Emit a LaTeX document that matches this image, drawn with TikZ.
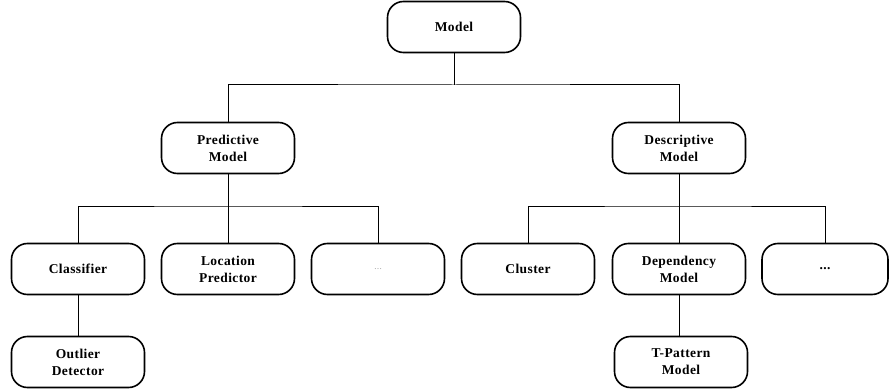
\documentclass[tikz,border=0pt]{standalone}
\usepackage{fontspec}
\setmainfont{Liberation Serif}[LetterSpace=3]

\begin{document}
\begin{tikzpicture}[x=1pt,y=1pt,
  box/.style={draw,line width=1.6pt,rounded corners=16pt,minimum width=133pt,minimum height=51pt,
    align=center,font=\fontsize{13.5}{17}\selectfont\bfseries},
  link/.style={line width=1pt}]
\useasboundingbox (0,0) rectangle (889,389);

% levels
\node[box] (model) at (454,362) {Model};

\node[box] (pred) at (228,241) {Predictive\\Model};
\node[box] (desc) at (679,241) {Descriptive\\Model};

\node[box] (cls) at (78,120) {Classifier};
\node[box] (loc) at (228,120) {Location\\Predictor};
\node[box] (dotsl) at (378,120) {\fontsize{8}{10}\selectfont\mdseries\color{gray}\dots};
\node[box] (clu) at (528,120) {Cluster};
\node[box] (dep) at (679,120) {Dependency\\Model};
\node[box,minimum width=126pt] (dotsr) at (825,120) {...};

\node[box] (outl) at (78,27) {Outlier\\Detector};
\node[box] (tpat) at (681,27) {T-Pattern\\Model};

% connectors
\coordinate (top) at (454,304);
\coordinate (lbus) at (228,183);
\coordinate (rbus) at (679,183);

\draw[link] (model.south) -- (top);
\draw[link] (pred.north) |- (top) -| (desc.north);

\draw[link] (pred.south) -- (loc.north);
\draw[link] (cls.north) |- (lbus) -| (dotsl.north);
\draw[link] (desc.south) -- (dep.north);
\draw[link] (clu.north) |- (rbus) -| (dotsr.north);

\draw[link] (cls.south) -- (outl.north);
\draw[link] (dep.south) -- (dep.south |- tpat.north);
\end{tikzpicture}
\end{document}
